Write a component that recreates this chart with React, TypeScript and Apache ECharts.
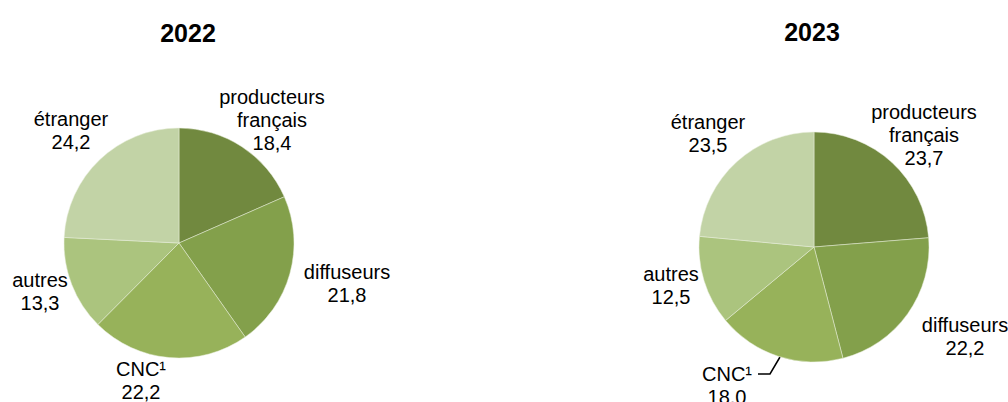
import React, { useEffect, useRef } from "react";
import * as echarts from "echarts";

const categories = ["producteurs\nfrançais", "diffuseurs", "CNC¹", "autres", "étranger"];
const values2022 = [18.4, 21.8, 22.2, 13.3, 24.2];
const values2023 = [23.7, 22.2, 18.0, 12.5, 23.5];
const years = ["2022", "2023"];
const colors = ["#71893F", "#83A04B", "#97B25A", "#ABC47E", "#C2D3A6"];

// label anchor positions (pixels) per pie, per slice
const labelPos2022 = [[272, 120], [347, 283], [141, 380], [40, 291], [71, 130]];
const labelPos2023 = [[924, 135], [965, 336], [727, 385], [671, 285], [708, 133]];

const fmt = (v: number) => v.toFixed(1).replace(".", ",");

export default function App() {
  const ref = useRef<HTMLDivElement>(null);
  useEffect(() => {
    const chart = echarts.init(ref.current!, null, { renderer: "svg" });
    const positions = [labelPos2022, labelPos2023];
    const mk = (vals: number[], center: number[], si: number) => ({
      type: "pie",
      center,
      radius: 115,
      startAngle: 90,
      clockwise: true,
      avoidLabelOverlap: false,
      data: vals.map((v, i) => ({
        name: categories[i],
        value: v,
        itemStyle: { color: colors[i] },
        labelLine: { show: si === 1 && i === 2, lineStyle: { color: "#000", width: 1.5 } },
      })),
      itemStyle: { borderColor: "#e8efdc", borderWidth: 0.5 },
      label: {
        show: true,
        position: "outside",
        alignTo: "none",
        overflow: "none",
        formatter: (p: any) => `${p.name}\n${fmt(p.value)}`,
        fontFamily: "Liberation Sans, Arial, sans-serif",
        fontSize: 20,
        lineHeight: 23,
        color: "#000",
        align: "center",
      },
      labelLine: { show: false },
      labelLayout: (p: any) => {
        const [x, y] = positions[si][p.dataIndex];
        const out: any = { x, y, align: "center", verticalAlign: "middle" };
        if (si === 1 && p.dataIndex === 2) {
          out.labelLinePoints = [[758, 374], [770, 374], [780, 357]];
        }
        return out;
      },
      emphasis: { disabled: true },
    });
    const titleStyle = { fontFamily: "Liberation Sans, Arial, sans-serif", fontSize: 25, fontWeight: "bold", color: "#000" };
    chart.setOption({
      animation: false,
      title: [
        { text: years[0], left: 183, top: 15, textAlign: "center", textStyle: titleStyle },
        { text: years[1], left: 807, top: 14, textAlign: "center", textStyle: titleStyle },
      ],
      series: [mk(values2022, [179, 243], 0), mk(values2023, [814, 247], 1)],
    });
    return () => chart.dispose();
  }, []);
  return (
    <div
      ref={ref}
      style={{ position: "fixed", left: 0, top: 0, width: 1008, height: 402, background: "#fff" }}
    />
  );
}
